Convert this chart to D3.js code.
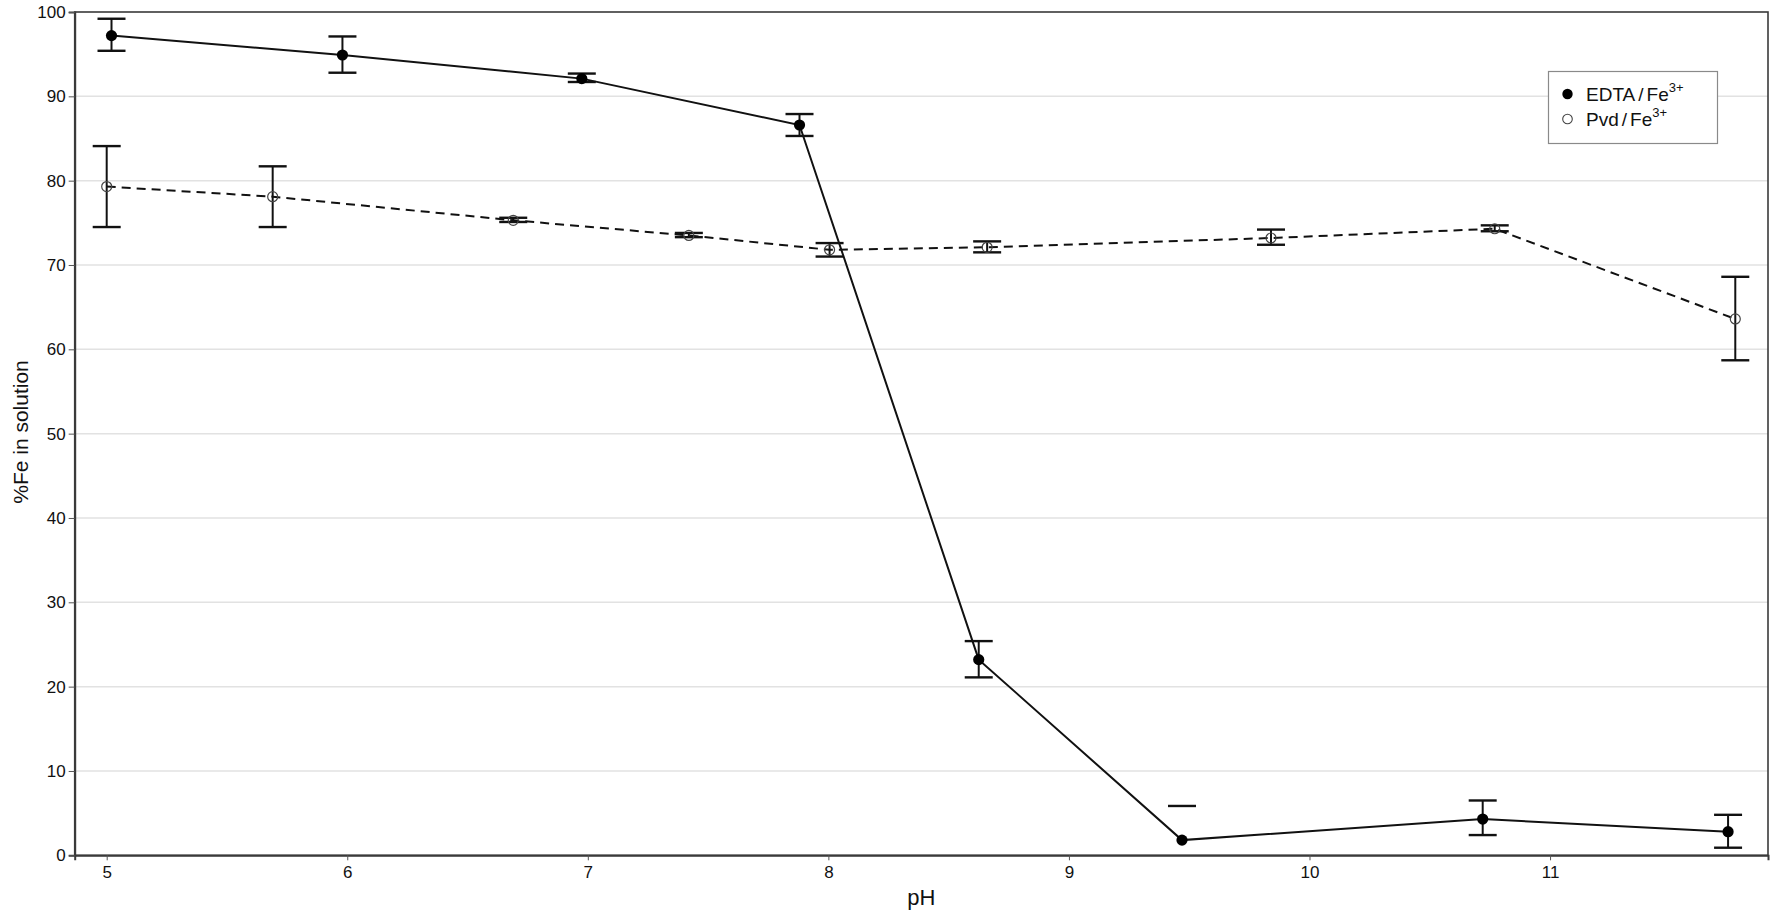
<!DOCTYPE html>
<html>
<head>
<meta charset="utf-8">
<script src="https://cdn.jsdelivr.net/npm/d3@7"></script>
<style>
  html, body { margin: 0; padding: 0; background: #fff; }
  svg { display: block; font-family: "Liberation Sans", Arial, sans-serif; }
</style>
</head>
<body>
<svg id="chart" width="1772" height="912"></svg>
<script>
// ---- data ----
const edtaPH   = [5.02, 5.98, 6.975, 7.88, 8.625, 9.47, 10.72, 11.74];
const edtaVal  = [97.2, 94.9, 92.1, 86.6, 23.2, 1.8, 4.3, 2.8];
const edtaLow  = [95.4, 92.8, 91.7, 85.3, 21.1, null, 2.4, 0.9];
const edtaHigh = [99.2, 97.1, 92.7, 87.9, 25.4, 5.85, 6.5, 4.8];

const pvdPH    = [5.0, 5.69, 6.69, 7.42, 8.005, 8.66, 9.84, 10.77, 11.77];
const pvdVal   = [79.3, 78.1, 75.3, 73.5, 71.8, 72.1, 73.2, 74.3, 63.6];
const pvdLow   = [74.5, 74.5, 75.1, 73.3, 71.0, 71.5, 72.4, 74.0, 58.7];
const pvdHigh  = [84.1, 81.7, 75.6, 73.8, 72.6, 72.8, 74.2, 74.7, 68.6];

const xTicks = [5, 6, 7, 8, 9, 10, 11];
const yTicks = [0, 10, 20, 30, 40, 50, 60, 70, 80, 90, 100];
const xTitle = "pH";
const yTitle = "%Fe in solution";
const legendParts = [["EDTA", "Fe"], ["Pvd", "Fe"]];
const legendSup = "3+";

// ---- layout ----
const svg = d3.select("#chart");
const L = 74.7, R = 1768, T = 12, B = 855.3;
const x = d3.scaleLinear().domain([4.867, 11.906]).range([L, R]);
const y = d3.scaleLinear().domain([0, 100]).range([B, T]);

// gridlines
svg.append("g").selectAll("line").data(yTicks.filter(v => v > 0 && v < 100)).join("line")
  .attr("x1", L).attr("x2", R)
  .attr("y1", d => y(d)).attr("y2", d => y(d))
  .attr("stroke", "#e2e2e2").attr("stroke-width", 1.5);

// frame
svg.append("rect").attr("x", L).attr("y", T).attr("width", R - L).attr("height", B - T)
  .attr("fill", "none").attr("stroke", "#3a3a3a").attr("stroke-width", 1.6);

// axes
const xAxis = d3.axisBottom(x).tickValues(xTicks).tickFormat(d3.format("d")).tickSize(5).tickPadding(6);
const gx = svg.append("g").attr("transform", `translate(0,${B})`).call(xAxis);
gx.select(".domain").attr("stroke", "#3a3a3a").attr("stroke-width", 2);
gx.selectAll(".tick line").attr("stroke", "#555");
gx.selectAll("text").attr("font-size", 17).attr("fill", "#111").attr("font-family", "Liberation Sans, Arial, sans-serif");

const yAxis = d3.axisLeft(y).tickValues(yTicks).tickFormat(d3.format("d")).tickSize(6).tickPadding(3);
const gy = svg.append("g").attr("transform", `translate(${L},0)`).call(yAxis);
gy.select(".domain").attr("stroke", "#3a3a3a").attr("stroke-width", 2);
gy.selectAll(".tick line").attr("stroke", "#555");
gy.selectAll("text").attr("font-size", 17).attr("fill", "#111").attr("font-family", "Liberation Sans, Arial, sans-serif");

// axis titles
svg.append("text").attr("x", (L + R) / 2).attr("y", 905).attr("text-anchor", "middle")
  .attr("font-size", 22).attr("fill", "#111").text(xTitle);
svg.append("text").attr("transform", `translate(28,${432}) rotate(-90)`).attr("text-anchor", "middle")
  .attr("font-size", 21).attr("fill", "#111").text(yTitle);

// helpers
const capW = 14;
function errorBars(g, xs, lo, hi) {
  const idx = xs.map((_, i) => i);
  g.selectAll("line.stem").data(idx.filter(i => lo[i] != null && hi[i] != null)).join("line")
    .attr("class", "stem")
    .attr("x1", i => x(xs[i])).attr("x2", i => x(xs[i]))
    .attr("y1", i => y(lo[i])).attr("y2", i => y(hi[i]))
    .attr("stroke", "#111").attr("stroke-width", 2);
  g.selectAll("line.caplo").data(idx.filter(i => lo[i] != null)).join("line")
    .attr("class", "caplo")
    .attr("x1", i => x(xs[i]) - capW).attr("x2", i => x(xs[i]) + capW)
    .attr("y1", i => y(lo[i])).attr("y2", i => y(lo[i]))
    .attr("stroke", "#111").attr("stroke-width", 2.4);
  g.selectAll("line.caphi").data(idx.filter(i => hi[i] != null)).join("line")
    .attr("class", "caphi")
    .attr("x1", i => x(xs[i]) - capW).attr("x2", i => x(xs[i]) + capW)
    .attr("y1", i => y(hi[i])).attr("y2", i => y(hi[i]))
    .attr("stroke", "#111").attr("stroke-width", 2.4);
}

const line = d3.line().x(d => x(d[0])).y(d => y(d[1]));

// Pvd series (dashed, open)
const gP = svg.append("g");
gP.append("path").datum(pvdPH.map((p, i) => [p, pvdVal[i]]))
  .attr("d", line).attr("fill", "none").attr("stroke", "#111")
  .attr("stroke-width", 2).attr("stroke-dasharray", "9,6");
errorBars(gP, pvdPH, pvdLow, pvdHigh);
gP.selectAll("circle").data(pvdPH.map((p, i) => [p, pvdVal[i]])).join("circle")
  .attr("cx", d => x(d[0])).attr("cy", d => y(d[1])).attr("r", 5)
  .attr("fill", "none").attr("stroke", "#444").attr("stroke-width", 1.2);

// EDTA series (solid, filled)
const gE = svg.append("g");
gE.append("path").datum(edtaPH.map((p, i) => [p, edtaVal[i]]))
  .attr("d", line).attr("fill", "none").attr("stroke", "#111").attr("stroke-width", 2);
errorBars(gE, edtaPH, edtaLow, edtaHigh);
gE.selectAll("circle").data(edtaPH.map((p, i) => [p, edtaVal[i]])).join("circle")
  .attr("cx", d => x(d[0])).attr("cy", d => y(d[1])).attr("r", 5.6)
  .attr("fill", "#000");

// legend
const lg = svg.append("g");
lg.append("rect").attr("x", 1548.5).attr("y", 71.5).attr("width", 169).attr("height", 72)
  .attr("fill", "#fff").attr("stroke", "#8a8a8a").attr("stroke-width", 1.2);
const rows = [94, 119];
lg.append("circle").attr("cx", 1567.5).attr("cy", rows[0]).attr("r", 5.2).attr("fill", "#000");
lg.append("circle").attr("cx", 1567.5).attr("cy", rows[1]).attr("r", 4.8)
  .attr("fill", "none").attr("stroke", "#444").attr("stroke-width", 1.1);
legendParts.forEach((parts, i) => {
  const t = lg.append("text").attr("x", 1586).attr("y", rows[i] + 7)
    .attr("font-size", 19).attr("fill", "#111");
  t.append("tspan").text(parts[0]);
  t.append("tspan").attr("dx", 3).text("/");
  t.append("tspan").attr("dx", 3).text(parts[1]);
  t.append("tspan").attr("dy", -9).attr("font-size", 13).text(legendSup);
});
</script>
</body>
</html>
